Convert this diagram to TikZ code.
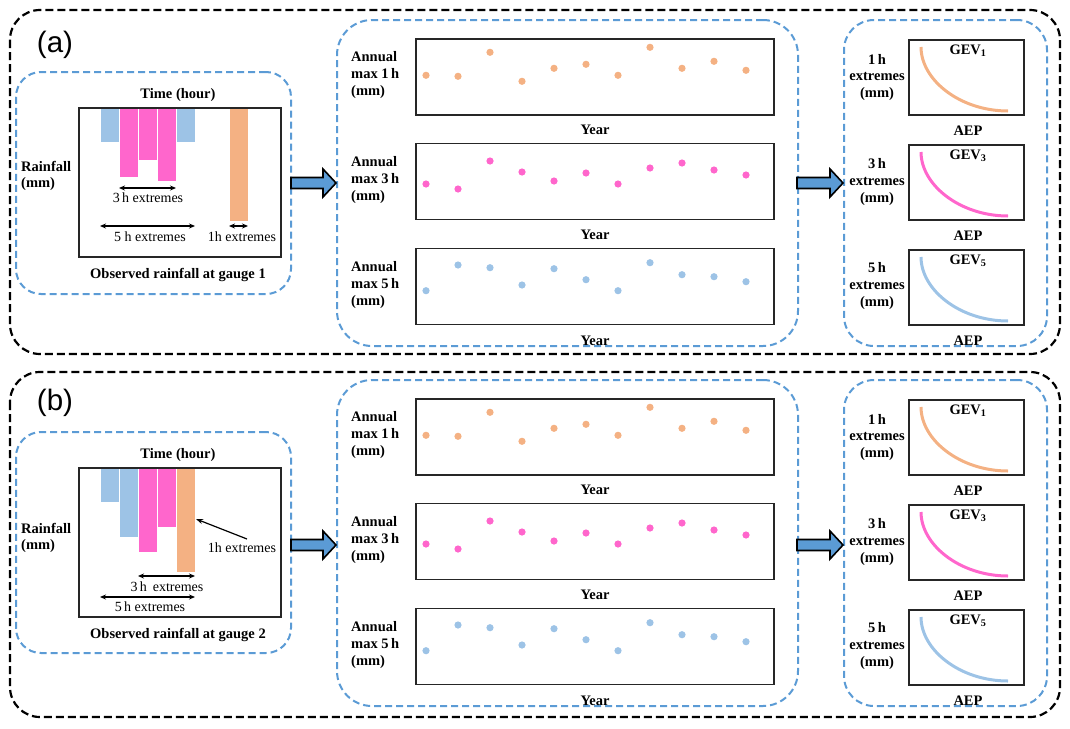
\documentclass[tikz,border=0pt]{standalone}
\usepackage{fontspec}
\setmainfont{Liberation Serif}
\newfontfamily\arialf{Liberation Sans}
\usetikzlibrary{arrows.meta}
\definecolor{dashblue}{HTML}{5B9BD5}
\definecolor{corange}{HTML}{F4B183}
\definecolor{cpink}{HTML}{FF66CC}
\definecolor{cblue}{HTML}{9DC3E6}
\definecolor{arrowblue}{HTML}{5B9BD5}

\newcommand{\midright}[2]{%
\begin{scope}[yshift=#2]
  % containers
  \node[bluebox, minimum width=461pt, minimum height=326pt, rounded corners=35pt] (mid#1) at (567.5,183) {};
  \node[bluebox, minimum width=203pt, minimum height=326pt, rounded corners=30pt] (rgt#1) at (945.5,183) {};
  % charts
  \node[chartbox, minimum width=358pt, minimum height=76pt] (ca#1) at (595,77) {};
  \node[chartbox, minimum width=358pt, minimum height=76pt] (cb#1) at (595,181.5) {};
  \node[chartbox, minimum width=358pt, minimum height=76pt] (cc#1) at (595,286.5) {};
  \node[lbl, anchor=west, align=left] (la#1) at (351,75) {Annual\\max 1\,h\\(mm)};
  \node[lbl, anchor=west, align=left] (lb#1) at (351,180) {Annual\\max 3\,h\\(mm)};
  \node[lbl, anchor=west, align=left] (lc#1) at (351,285) {Annual\\max 5\,h\\(mm)};
  \node[lbl] (ya#1) at (595,130) {Year};
  \node[lbl] (yb#1) at (595,235) {Year};
  \node[lbl] (yc#1) at (595,341) {Year};
  \foreach \v [count=\i from 0] in {36.3,37.3,13.3,42.3,29.3,25.3,36.3,8.3,29.3,22.3,31.3}
    \fill[corange] ({426+32*\i},{39+\v}) circle (3.6pt);
  \foreach \v [count=\i from 0] in {40,45,17,28,37,29,40,24,19,26,31}
    \fill[cpink] ({426+32*\i},{144+\v}) circle (3.6pt);
  \foreach \v [count=\i from 0] in {41.7,16,18.7,36,19.7,30.7,41.7,13.7,25.7,27.7,32.7}
    \fill[cblue] ({426+32*\i},{249+\v}) circle (3.6pt);
  % GEV panels
  \node[chartbox, minimum width=115pt, minimum height=75pt] (ga#1) at (966.5,77.5) {};
  \node[chartbox, minimum width=115pt, minimum height=75pt] (gb#1) at (966.5,182.5) {};
  \node[chartbox, minimum width=115pt, minimum height=75pt] (gc#1) at (966.5,287.5) {};
  \node[lbl] (gva#1) at (968,51) {GEV\textsubscript{1}};
  \node[lbl] (gvb#1) at (968,156) {GEV\textsubscript{3}};
  \node[lbl] (gvc#1) at (968,261) {GEV\textsubscript{5}};
  \node[lbl] (aea#1) at (968,131) {AEP};
  \node[lbl] (aeb#1) at (968,236) {AEP};
  \node[lbl] (aec#1) at (968,341) {AEP};
  \node[lbl, align=center] (ea#1) at (877,77.5) {1\,h\\extremes\\(mm)};
  \node[lbl, align=center] (eb#1) at (877,182) {3\,h\\extremes\\(mm)};
  \node[lbl, align=center] (ec#1) at (877,286) {5\,h\\extremes\\(mm)};
  \draw[gevcurve, corange] (921,47) .. controls (921,80) and (960,111) .. (1008,111);
  \draw[gevcurve, cpink] (921,152) .. controls (921,185) and (960,216) .. (1008,216);
  \draw[gevcurve, cblue] (921,257) .. controls (921,290) and (960,321) .. (1008,321);
\end{scope}}

\newcommand{\blockarrow}[2]{%
  \draw[blockarr] (#1) ++(0,-5.5) -- ++(32,0) -- ++(0,-8.5) -- (#2) -- ++(-13,14) -- ++(0,-8.5) -- ++(-32,0) -- cycle;}

\begin{document}
\begin{tikzpicture}[x=1pt, y=-1pt,
  outerbox/.style={draw=black, line width=2.2pt, dash pattern=on 8pt off 4pt, rounded corners=30pt},
  bluebox/.style={draw=dashblue, line width=2pt, dash pattern=on 7pt off 4pt, inner sep=0pt},
  chartbox/.style={draw=black!85, line width=1.3pt, inner sep=0pt},
  lbl/.style={font=\fontsize{14.5}{16.8}\selectfont\bfseries, inner sep=0pt},
  rlbl/.style={font=\fontsize{14}{16}\selectfont, inner sep=0pt},
  gevcurve/.style={line width=3pt},
  bar/.style={draw=white, line width=0.6pt},
  dimarr/.style={{Stealth[length=6pt,width=5pt]}-{Stealth[length=6pt,width=5pt]}, line width=1.2pt},
  blockarr/.style={fill=arrowblue, draw=black, line width=1.6pt, line join=miter},
  tag/.style={font=\arialf\fontsize{29.5}{30}\selectfont, inner sep=0pt}]
\useasboundingbox (0,0) rectangle (1070,728);

% ================= (a) =================
\draw[outerbox] (10,10) rectangle (1060,354);
\node[tag] (taga) at (55,45) {(a)};
\node[bluebox, minimum width=275pt, minimum height=222pt, rounded corners=25pt] (lefta) at (153.5,183) {};
\fill[cblue, bar] (100,108) rectangle (119,142);
\fill[cpink, bar] (119,108) rectangle (138,177);
\fill[cpink, bar] (138,108) rectangle (157,160);
\fill[cpink, bar] (157,108) rectangle (176,181);
\fill[cblue, bar] (176,108) rectangle (195,142);
\fill[corange, bar] (229,108) rectangle (248,221);
\node[chartbox, minimum width=202pt, minimum height=149pt] (boxa) at (180,182.5) {};
\node[lbl] (timea) at (178,95) {Time (hour)};
\node[lbl, anchor=west, align=left] (raina) at (21,176) {Rainfall\\(mm)};
\node[lbl] (obsa) at (178,275) {Observed rainfall at gauge 1};
\coordinate (a3l) at (119,188); \coordinate (a3r) at (176,188);
\coordinate (a5l) at (100,226); \coordinate (a5r) at (195,226);
\coordinate (a1l) at (229,226); \coordinate (a1r) at (248,226);
\draw[dimarr] (a3l) -- (a3r);
\draw[dimarr] (a5l) -- (a5r);
\draw[dimarr] (a1l) -- (a1r);
\node[rlbl] (t3a) at (148,198) {3\,h extremes};
\node[rlbl] (t5a) at (150,237) {5 h extremes};
\node[rlbl] (t1a) at (242,237) {1h extremes};
\midright{A}{0pt}
\coordinate (arA1s) at (291,183); \coordinate (arA1e) at (336,183);
\coordinate (arA2s) at (797,183); \coordinate (arA2e) at (843,183);
\blockarrow{arA1s}{arA1e}
\draw[blockarr] (arA2s) ++(0,-5.5) -- ++(33,0) -- ++(0,-8.5) -- (arA2e) -- ++(-13,14) -- ++(0,-8.5) -- ++(-33,0) -- cycle;

% ================= (b) =================
\draw[outerbox] (10,372) rectangle (1060,717);
\node[tag] (tagb) at (55,403) {(b)};
\node[bluebox, minimum width=275pt, minimum height=221pt, rounded corners=25pt] (leftb) at (153.5,542.5) {};
\fill[cblue, bar] (100,468) rectangle (119,502);
\fill[cblue, bar] (119,468) rectangle (138,537);
\fill[cpink, bar] (138,468) rectangle (157,552);
\fill[cpink, bar] (157,468) rectangle (176,527);
\fill[corange, bar] (176,468) rectangle (195,572);
\node[chartbox, minimum width=202pt, minimum height=149pt] (boxb) at (180,542.5) {};
\node[lbl] (timeb) at (178,455) {Time (hour)};
\node[lbl, anchor=west, align=left] (rainb) at (21,538) {Rainfall\\(mm)};
\node[lbl] (obsb) at (178,635) {Observed rainfall at gauge 2};
\coordinate (b3l) at (138,576); \coordinate (b3r) at (195,576);
\coordinate (b5l) at (100,597); \coordinate (b5r) at (195,597);
\draw[dimarr] (b3l) -- (b3r);
\draw[dimarr] (b5l) -- (b5r);
\node[rlbl] (t3b) at (167,587) {3\,h\ \,extremes};
\node[rlbl] (t5b) at (150,607) {5\,h extremes};
\node[rlbl] (t1b) at (242,548) {1h extremes};
\coordinate (b1tip) at (196,519);
\draw[-{Stealth[length=7pt,width=5pt]}, line width=1.2pt] (247,539) -- (b1tip);
\midright{B}{-360pt}
\coordinate (arB1s) at (291,545); \coordinate (arB1e) at (336,545);
\coordinate (arB2s) at (797,545); \coordinate (arB2e) at (843,545);
\blockarrow{arB1s}{arB1e}
\draw[blockarr] (arB2s) ++(0,-5.5) -- ++(33,0) -- ++(0,-8.5) -- (arB2e) -- ++(-13,14) -- ++(0,-8.5) -- ++(-33,0) -- cycle;
\end{tikzpicture}
\end{document}
